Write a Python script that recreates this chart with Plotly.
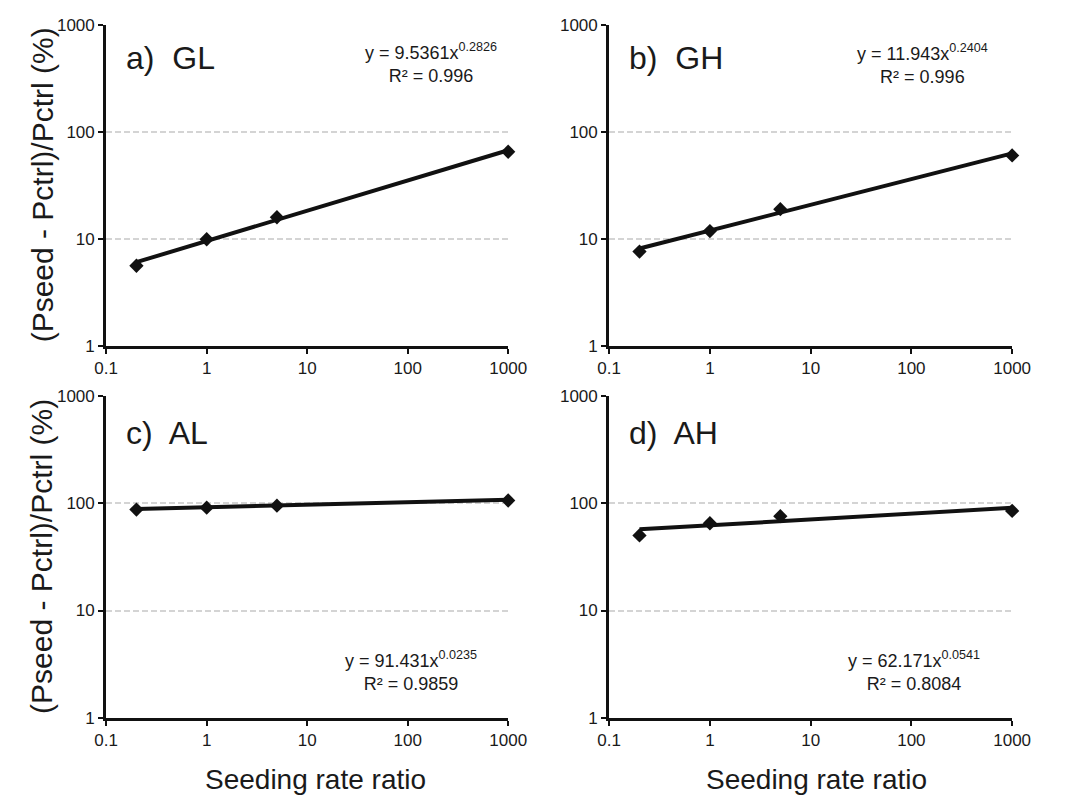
import plotly.graph_objects as go

# ---- data ----
seeding_ratio = [0.2, 1, 5, 1000]
panel_labels = ["a)  GL", "b)  GH", "c)  AL", "d)  AH"]
gl_values = [5.6, 9.9, 15.9, 65]
gh_values = [7.6, 11.8, 18.9, 60]
al_values = [87, 90.7, 94.6, 105.7]
ah_values = [50, 64.9, 75.6, 84.6]
fit_coef = [9.5361, 11.943, 91.431, 62.171]
fit_exp = [0.2826, 0.2404, 0.0235, 0.0541]
fit_r2 = ["0.996", "0.996", "0.9859", "0.8084"]
fit_coef_txt = ["9.5361", "11.943", "91.431", "62.171"]
fit_exp_txt = ["0.2826", "0.2404", "0.0235", "0.0541"]
x_ticks = [0.1, 1, 10, 100, 1000]
x_ticktext = ["0.1", "1", "10", "100", "1000"]
y_ticks = [1, 10, 100, 1000]
y_ticktext = ["1", "10", "100", "1000"]

series = [gl_values, gh_values, al_values, ah_values]

W, H = 1069, 808
FONT = "Liberation Sans, Arial, sans-serif"
TXT = "#1a1a1a"

# panel pixel boxes (left, right, top, bottom)
boxes = [(97, 511, 16, 345), (615, 1030, 16, 345),
         (97, 511, 396, 726), (615, 1030, 396, 726)]
# equation block centre (pixels)
eq_pos = [(432, 55), (938, 56), (411, 678), (929, 678)]

fig = go.Figure()
layout = dict(
    width=W, height=H, margin=dict(l=0, r=0, t=0, b=0),
    paper_bgcolor="white", plot_bgcolor="white", showlegend=False,
    font=dict(family=FONT, color=TXT),
)

annotations = []
for i, (vals, box) in enumerate(zip(series, boxes)):
    n = i + 1
    xa = "x" if n == 1 else f"x{n}"
    ya = "y" if n == 1 else f"y{n}"
    l, r, t, b = box
    layout[f"xaxis{'' if n == 1 else n}"] = dict(
        type="log", range=[-1, 3], domain=[l / W, r / W], anchor=ya,
        showline=True, linecolor="#111111", linewidth=3,
        ticks="outside", ticklen=5, tickwidth=2, tickcolor="#111111",
        tickmode="array", tickvals=x_ticks, ticktext=x_ticktext,
        showgrid=False, zeroline=False,
        tickfont=dict(size=17, color=TXT, family=FONT),
    )
    layout[f"yaxis{'' if n == 1 else n}"] = dict(
        type="log", range=[0, 3], domain=[1 - b / H, 1 - t / H], anchor=xa,
        showline=True, linecolor="#111111", linewidth=3,
        ticks="outside", ticklen=5, tickwidth=2, tickcolor="#111111",
        tickmode="array", tickvals=y_ticks, ticktext=y_ticktext, zeroline=False,
        ticksuffix=" ",
        showgrid=True, gridcolor="#d4d4d4", gridwidth=2, griddash="6px,3px",
        tickfont=dict(size=17, color=TXT, family=FONT),
    )
    # trend line (power fit from displayed coefficients)
    xs = [seeding_ratio[0], seeding_ratio[-1]]
    ys = [fit_coef[i] * x ** fit_exp[i] for x in xs]
    fig.add_trace(go.Scatter(x=xs, y=ys, mode="lines",
                             line=dict(color="#111111", width=4),
                             xaxis=xa, yaxis=ya, hoverinfo="skip", cliponaxis=False))
    fig.add_trace(go.Scatter(x=seeding_ratio, y=vals, mode="markers",
                             marker=dict(symbol="diamond", size=11, color="#111111"),
                             xaxis=xa, yaxis=ya, cliponaxis=False))
    # panel label
    annotations.append(dict(
        text=panel_labels[i], xref="paper", yref="paper",
        x=(l + 18) / W, y=1 - (t + (34 if i < 2 else 38)) / H,
        xanchor="left", yanchor="middle",
        showarrow=False, font=dict(size=32, color=TXT, family=FONT)))
    # equation
    ex, ey = eq_pos[i]
    annotations.append(dict(
        text=f"y = {fit_coef_txt[i]}x<sup>{fit_exp_txt[i]}</sup><br>R² = {fit_r2[i]}",
        xref="paper", yref="paper", x=ex / W, y=1 - ey / H,
        xanchor="center", yanchor="middle", align="center", showarrow=False,
        font=dict(size=18, color=TXT, family=FONT)))

# axis titles
for t, b in [(16, 345), (396, 726)]:
    annotations.append(dict(
        text="(Pseed - Pctrl)/Pctrl (%)", xref="paper", yref="paper",
        x=31 / W, y=1 - ((t + b) / 2) / H, xanchor="center", yanchor="middle",
        textangle=-90, showarrow=False, font=dict(size=30, color=TXT, family=FONT)))
for cx in [313, 829]:
    annotations.append(dict(
        text="Seeding rate ratio", xref="paper", yref="paper",
        x=cx / W, y=1 - 789 / H, xanchor="center", yanchor="middle",
        showarrow=False, font=dict(size=28, color=TXT, family=FONT)))

layout["annotations"] = annotations
fig.update_layout(**layout)
fig.write_html("out.html")
